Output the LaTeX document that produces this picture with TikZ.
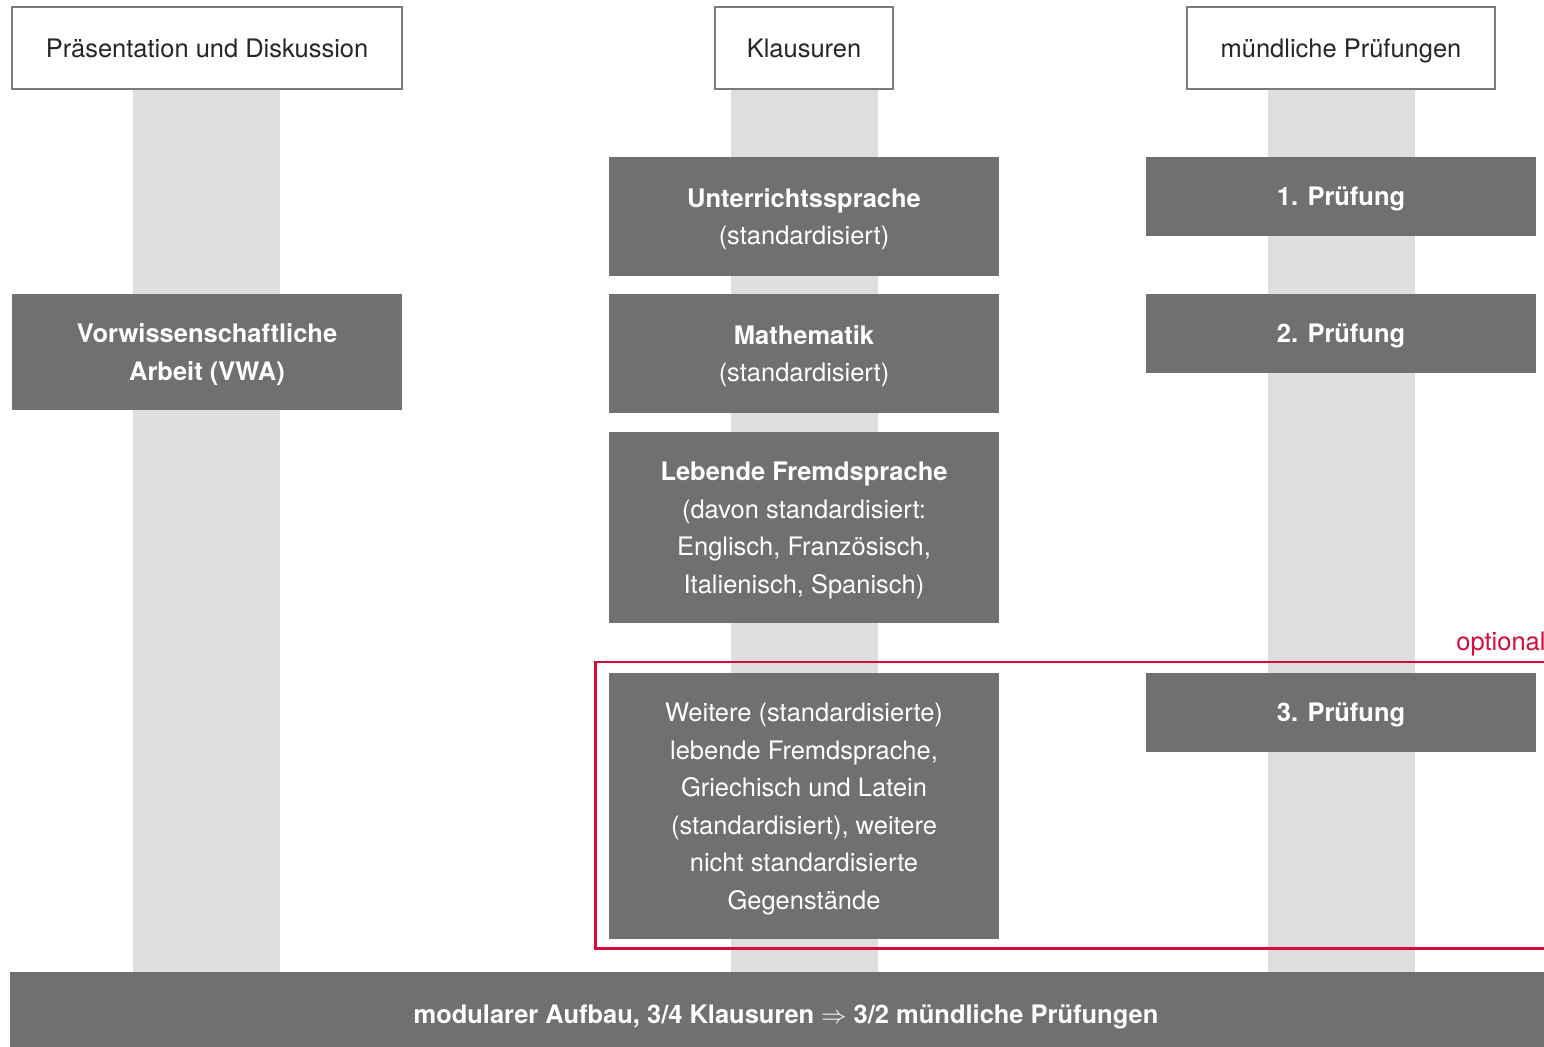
\documentclass[tikz,border=0pt]{standalone}
\usepackage{fontspec}
\setmainfont{TeX Gyre Heros}

\definecolor{boxgrau}{RGB}{112,112,112}
\definecolor{spaltengrau}{RGB}{222,222,222}
\definecolor{rahmengrau}{RGB}{122,122,122}
\definecolor{optionalrot}{RGB}{214,10,60}
\newcommand{\schrift}{\fontsize{14.5}{21.3}\selectfont}
\newcommand{\oben}{\rule{0pt}{13.9pt}}

\begin{document}
\begin{tikzpicture}[x=0.02cm, y=-0.02cm,
	kopf/.style={draw=rahmengrau, line width=1.3pt, fill=white, text=black!85, minimum height=1.64cm, inner sep=0pt, text depth=0pt, font=\schrift},
	fach/.style={fill=boxgrau, text=white, align=center, inner sep=0pt, minimum width=7.8cm, font=\schrift}]
\path[use as bounding box, clip] (0,0) rectangle (1544,1047);

	%% Spalten
	\fill[spaltengrau] (133,89) rectangle (280,972);
	\fill[spaltengrau] (731,89) rectangle (878,972);
	\fill[spaltengrau] (1268,89) rectangle (1415,972);

	%% Kopfzeile
	\node[kopf, minimum width=7.8cm] (praes) at (207,48) {Präsentation und Diskussion};
	\node[kopf, minimum width=3.56cm] (klaus) at (804,48) {Klausuren};
	\node[kopf, minimum width=6.16cm] (muendl) at (1341,48) {mündliche Prüfungen};
	%%%%%%%%%%%%%%%%

	%% VWA
	\node[fach, minimum height=2.32cm] (vwa) at (207,352) {\oben\textbf{Vorwissenschaftliche}\\\textbf{Arbeit (VWA)}};

	%% Klausuren
	\node[fach, minimum height=2.38cm] (unterricht) at (804,216.5) {\oben\textbf{Unterrichtssprache}\\(standardisiert)};
	\node[fach, minimum height=2.38cm] (mathe) at (804,353.5) {\oben\textbf{Mathematik}\\(standardisiert)};
	\node[fach, minimum height=3.82cm] (fremd) at (804,527.5) {\oben\textbf{Lebende Fremdsprache}\\(davon standardisiert:\\Englisch, Französisch,\\Italienisch, Spanisch)};
	\node[fach, minimum height=5.32cm] (weitere) at (804,806) {\oben Weitere (standardisierte)\\lebende Fremdsprache,\\Griechisch und Latein\\(standardisiert), weitere\\nicht standardisierte\\Gegenstände};

	%% muendliche Pruefungen
	\node[fach, minimum height=1.58cm] (pruef1) at (1341,196.5) {\oben\textbf{1. Prüfung}};
	\node[fach, minimum height=1.58cm] (pruef2) at (1341,333.5) {\oben\textbf{2. Prüfung}};
	\node[fach, minimum height=1.58cm] (pruef3) at (1341,712.5) {\oben\textbf{3. Prüfung}};

	%% optional
	\draw[optionalrot, line width=1.7pt] (595,662) rectangle (1570,948);
	\node[text=optionalrot, anchor=base west, inner sep=0pt, font=\schrift] (optional) at (1456,650) {optional};

	%% Unterer Balken
	\node[fill=boxgrau, text=white, inner sep=0pt, minimum width=31.04cm, minimum height=1.8cm, font=\schrift] (modular) at (786,1017) {\textbf{modularer Aufbau, 3/4 Klausuren $\Rightarrow$ 3/2 mündliche Prüfungen}};

%\draw (current bounding box.south west) rectangle (current bounding box.north east);
\end{tikzpicture}
\end{document}
